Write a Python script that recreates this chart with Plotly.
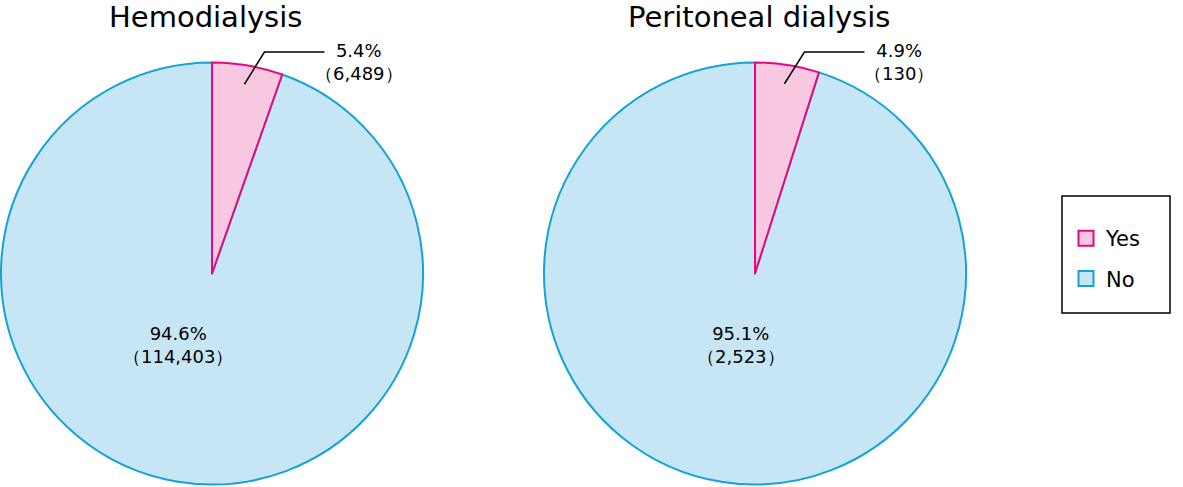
import math
import plotly.graph_objects as go

W, H = 1183, 487

titles = ["Hemodialysis", "Peritoneal dialysis"]
categories = ["Yes", "No"]
yes_pct = [5.4, 4.9]
no_pct = [94.6, 95.1]
yes_n = ["6,489", "130"]
no_n = ["114,403", "2,523"]

pink_fill = "#F8C8E0"
pink_line = "#E4097F"
blue_fill = "#C6E6F6"
blue_line = "#13A3D8"

centers_px = [(212, 273.5), (755, 273.5)]
R = 211

def px(x):
    return x / W

def py(y):
    return 1 - y / H

fig = go.Figure()
annotations = []
shapes = []

for i in range(2):
    cx, cy = centers_px[i]
    total = yes_pct[i] + no_pct[i]
    fig.add_trace(go.Pie(
        labels=["No", "Yes"],
        values=[no_pct[i], yes_pct[i]],
        sort=False,
        direction="clockwise",
        rotation=yes_pct[i] / total * 360,
        marker=dict(colors=[blue_fill, pink_fill],
                    line=dict(color=[blue_line, pink_line], width=2)),
        textinfo="none",
        hoverinfo="label+percent",
        showlegend=False,
        domain=dict(x=[px(cx - R), px(cx + R)], y=[py(cy + R), py(cy - R)]),
    ))
    # title
    annotations.append(dict(x=px(cx - 7 + (11 if i else 0)), y=py(17), xref="paper", yref="paper",
                            text=titles[i], showarrow=False,
                            font=dict(size=29, color="black", family="DejaVu Sans"),
                            xanchor="center", yanchor="middle"))
    # leader line for Yes slice
    ang = math.radians(yes_pct[i] / total * 360 / 2)
    sx = cx + 0.91 * R * math.sin(ang)
    sy = cy - 0.91 * R * math.cos(ang)
    ex, ey = sx + 20, 52
    fx = ex + 60
    shapes.append(dict(type="path", xref="paper", yref="paper",
                       path=f"M {px(sx)},{py(sy)} L {px(ex)},{py(ey)} L {px(fx)},{py(ey)}",
                       line=dict(color="black", width=1.5)))
    annotations.append(dict(x=px(fx + 35), y=py(62), xref="paper", yref="paper",
                            text=f"{yes_pct[i]}%<br>（{yes_n[i]}）", showarrow=False,
                            font=dict(size=18, color="black", family="DejaVu Sans"),
                            xanchor="center", yanchor="middle", align="center"))
    # inside label for No slice
    annotations.append(dict(x=px(cx - 34 + (20 if i else 0)), y=py(cy + 71), xref="paper", yref="paper",
                            text=f"{no_pct[i]}%<br>（{no_n[i]}）", showarrow=False,
                            font=dict(size=18, color="black", family="DejaVu Sans"),
                            xanchor="center", yanchor="middle", align="center"))

# legend entries (one per category)
legend_styles = {"Yes": (pink_fill, pink_line), "No": (blue_fill, blue_line)}
for cat in categories:
    fc, lc = legend_styles[cat]
    fig.add_trace(go.Scatter(x=[None], y=[None], mode="markers", name=cat,
                             legendgroup=cat,
                             marker=dict(symbol="square", size=15, color=fc,
                                         line=dict(color=lc, width=2))))

# legend frame
shapes.append(dict(type="rect", xref="paper", yref="paper",
                   x0=px(1062), x1=px(1170), y0=py(313), y1=py(196),
                   line=dict(color="black", width=1.5), fillcolor="rgba(0,0,0,0)"))

fig.update_layout(
    width=W, height=H,
    margin=dict(l=0, r=0, t=0, b=0),
    paper_bgcolor="white",
    plot_bgcolor="white",
    annotations=annotations,
    shapes=shapes,
    xaxis=dict(visible=False),
    yaxis=dict(visible=False),
    legend=dict(x=px(1066), y=py(218), xanchor="left", yanchor="top",
                traceorder="grouped", tracegroupgap=10, itemsizing="trace",
                font=dict(size=21, color="black", family="DejaVu Sans"),
                bgcolor="rgba(0,0,0,0)", borderwidth=0),
)

fig.write_html("out.html", config={"displayModeBar": False},
               post_script="document.body.style.margin='0';document.body.style.overflow='hidden';")
